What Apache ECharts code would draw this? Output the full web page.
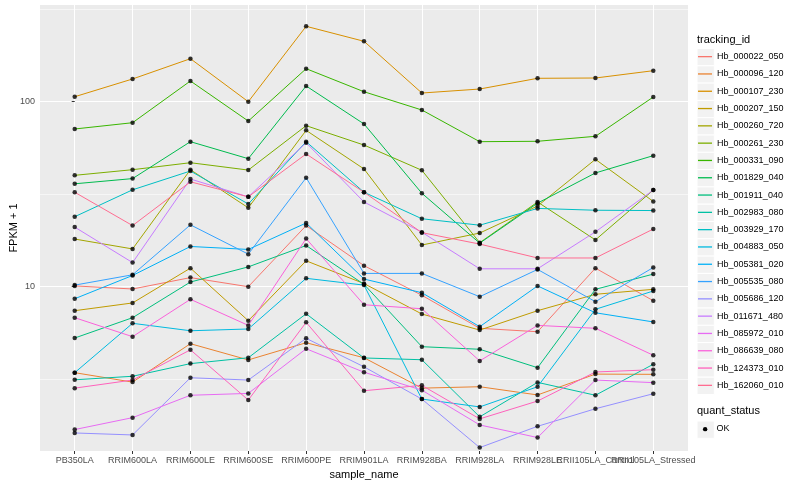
<!DOCTYPE html>
<html><head><meta charset="utf-8">
<script src="https://cdn.jsdelivr.net/npm/echarts@6/dist/echarts.min.js"></script>
<style>html,body{margin:0;padding:0;background:#fff}#c{width:800px;height:500px}</style>
</head><body><div id="c"></div>
<script>
// ---- data ----
const samples = ["PB350LA","RRIM600LA","RRIM600LE","RRIM600SE","RRIM600PE","RRIM901LA","RRIM928BA","RRIM928LA","RRIM928LE","RRII105LA_Control","RRII105LA_Stressed"];
const trackingIds = ["Hb_000022_050","Hb_000096_120","Hb_000107_230","Hb_000207_150","Hb_000260_720","Hb_000261_230","Hb_000331_090","Hb_001829_040","Hb_001911_040","Hb_002983_080","Hb_003929_170","Hb_004883_050","Hb_005381_020","Hb_005535_080","Hb_005686_120","Hb_011671_480","Hb_085972_010","Hb_086639_080","Hb_124373_010","Hb_162060_010"];
const Hb_000022_050 = [10.1, 9.72, 11.2, 10.0, 21.4, 13.0, 8.99, 5.96, 5.71, 12.6, 8.40];
const Hb_000096_120 = [3.43, 3.05, 4.92, 4.02, 4.98, 4.13, 2.83, 2.88, 2.60, 3.37, 3.36];
const Hb_000107_230 = [106.4, 132.7, 170.8, 100, 255.6, 212.1, 111.4, 117.1, 133.8, 134.3, 147.1];
const Hb_000207_150 = [7.42, 8.17, 12.6, 6.55, 13.8, 10.4, 7.12, 5.83, 7.42, 9.10, 9.68];
const Hb_000260_720 = [18.1, 16.0, 42.9, 26.7, 70.0, 43.3, 16.8, 19.5, 27.3, 48.8, 28.9];
const Hb_000261_230 = [40.0, 42.9, 46.8, 42.7, 74.2, 58.3, 42.6, 17.3, 28.7, 17.9, 33.3];
const Hb_000331_090 = [71.2, 77.0, 129.4, 78.6, 150.8, 113.2, 90.2, 60.8, 61.1, 65.0, 106.0];
const Hb_001829_040 = [36.0, 38.4, 60.8, 49.2, 121.6, 75.8, 32.0, 17.2, 28.3, 41.2, 51.1];
const Hb_001911_040 = [5.28, 6.80, 10.6, 12.8, 16.7, 10.3, 4.74, 4.59, 3.65, 9.68, 11.7];
const Hb_002983_080 = [3.14, 3.28, 3.84, 4.13, 7.14, 4.12, 4.03, 1.98, 3.04, 2.59, 3.81];
const Hb_003929_170 = [23.9, 33.4, 42.2, 28.0, 60.8, 32.4, 23.3, 21.5, 26.5, 25.9, 25.8];
const Hb_004883_050 = [3.43, 6.34, 5.78, 5.91, 11.1, 10.2, 2.47, 2.24, 2.88, 7.55, 9.48];
const Hb_005381_020 = [8.61, 11.5, 16.5, 15.9, 22.1, 11.0, 9.28, 6.08, 10.1, 7.23, 6.45];
const Hb_005535_080 = [10.2, 11.6, 21.6, 15.0, 38.8, 11.8, 11.8, 8.83, 12.4, 8.30, 12.7];
const Hb_005686_120 = [1.62, 1.58, 3.22, 3.13, 5.26, 3.69, 2.47, 1.35, 1.76, 2.19, 2.64];
const Hb_011671_480 = [21.0, 13.5, 38.2, 30.6, 60.0, 28.7, 19.7, 12.5, 12.5, 19.8, 33.3];
const Hb_085972_010 = [1.69, 1.96, 2.59, 2.65, 4.62, 3.45, 2.76, 1.79, 1.53, 3.13, 3.03];
const Hb_086639_080 = [6.80, 5.37, 8.55, 6.18, 18.2, 7.99, 7.60, 3.97, 6.18, 5.96, 4.26];
const Hb_124373_010 = [2.83, 3.13, 4.56, 2.44, 6.42, 2.74, 2.93, 1.93, 2.41, 3.46, 3.56];
const Hb_162060_010 = [32.4, 21.4, 36.9, 30.6, 52.2, 32.4, 19.6, 17.0, 14.3, 14.3, 20.5];
const seriesValues = [Hb_000022_050, Hb_000096_120, Hb_000107_230, Hb_000207_150, Hb_000260_720, Hb_000261_230, Hb_000331_090, Hb_001829_040, Hb_001911_040, Hb_002983_080, Hb_003929_170, Hb_004883_050, Hb_005381_020, Hb_005535_080, Hb_005686_120, Hb_011671_480, Hb_085972_010, Hb_086639_080, Hb_124373_010, Hb_162060_010];
const yTickValues = [10, 100];
const yMinorValues = [3.1623, 31.623, 316.23];
const quantStatus = ["OK"];

// ---- style ----
const colors = ["#F8766D","#EA8331","#D89000","#C09B00","#A3A500","#7CAE00","#39B600","#00BB4E","#00BF7D","#00C1A3","#00BFC4","#00BAE0","#00B0F6","#35A2FF","#9590FF","#C77CFF","#E76BF3","#FA62DB","#FF62BC","#FF6C91"];
const FONT = '"Liberation Sans", Arial, Helvetica, sans-serif';
const yMin = Math.pow(10, 0.112), yMax = Math.pow(10, 2.5227);
const idx = samples.map((s, i) => i);
const idxMain = idx.filter(i => i !== 9);   // alternate label row so overlapping labels both show
const idxAlt = [9];

const lineSeries = trackingIds.map((id, i) => ({
  name: id, type: 'line', symbol: 'none', z: 2,
  data: seriesValues[i].map((v, j) => [j, v]),
  lineStyle: { color: colors[i], width: 1 },
  itemStyle: { color: colors[i] },
  emphasis: { disabled: true }
}));
const pointData = [];
seriesValues.forEach(arr => arr.forEach((v, j) => pointData.push([j, v])));
const pointSeries = {
  name: quantStatus[0], type: 'scatter', z: 3, symbol: 'circle', symbolSize: 4.5,
  itemStyle: { color: '#000' }, data: pointData, emphasis: { disabled: true }
};

// legend key boxes
const keyX = 696.5, keyTop = 48, keyH = 17.3;
const graphics = [];
trackingIds.forEach((id, i) => graphics.push({
  type: 'rect', left: keyX, top: keyTop + i * keyH, z: 0,
  shape: { width: keyH, height: keyH },
  style: { fill: '#F2F2F2', stroke: '#ffffff', lineWidth: 1 }
}));
graphics.push({ type: 'text', left: 697, top: 34, z: 5,
  style: { text: 'tracking_id', fontSize: 11, fontFamily: FONT, fill: '#000' } });
graphics.push({ type: 'text', left: 697, top: 405, z: 5,
  style: { text: 'quant_status', fontSize: 11, fontFamily: FONT, fill: '#000' } });
graphics.push({ type: 'rect', left: keyX, top: 420.5, z: 0,
  shape: { width: keyH, height: keyH },
  style: { fill: '#F2F2F2', stroke: '#ffffff', lineWidth: 1 } });
graphics.push({ type: 'circle', left: keyX + keyH / 2 - 2.2, top: 420.5 + keyH / 2 - 2.2, z: 5,
  shape: { r: 2.2 }, style: { fill: '#000' } });
graphics.push({ type: 'text', left: 716.5, top: 424, z: 5,
  style: { text: quantStatus[0], fontSize: 9, fontFamily: FONT, fill: '#000' } });

const labelStyle = { formatter: v => samples[Math.round(v)], color: '#4D4D4D', fontSize: 9, margin: 5,
  fontFamily: FONT, hideOverlap: false, showMinLabel: true, showMaxLabel: true };

const chart = echarts.init(document.getElementById('c'));
chart.setOption({
  animation: false,
  backgroundColor: '#ffffff',
  grid: { left: 40, right: 112, top: 5, bottom: 49, show: true, backgroundColor: '#EBEBEB', borderWidth: 0,
          containLabel: false, outerBoundsMode: 'none' },
  xAxis: [{
    type: 'value', min: -0.6, max: 10.6, position: 'bottom',
    axisLine: { show: false },
    axisTick: { show: true, customValues: idx, length: 3, lineStyle: { color: '#333333' } },
    axisLabel: Object.assign({ customValues: idxMain }, labelStyle),
    splitLine: { show: true, lineStyle: { color: '#ffffff', width: 1 } },
    name: 'sample_name', nameLocation: 'middle', nameGap: 16,
    nameTextStyle: { color: '#000', fontSize: 11, fontFamily: FONT }
  }, {
    type: 'value', min: -0.6, max: 10.6, position: 'bottom', offset: 0,
    axisLine: { show: false }, axisTick: { show: false }, splitLine: { show: false },
    axisLabel: Object.assign({ customValues: idxAlt }, labelStyle)
  }],
  yAxis: [{
    type: 'log', logBase: 10, min: yMin, max: yMax, position: 'left', z: 1,
    axisLine: { show: false }, axisTick: { show: false, customValues: yMinorValues },
    axisLabel: { show: false },
    splitLine: { show: true, lineStyle: { color: '#ffffff', width: 0.55 } }
  }, {
    type: 'log', logBase: 10, min: yMin, max: yMax, position: 'left', offset: 0,
    axisLine: { show: false },
    axisTick: { show: true, customValues: yTickValues, length: 3, lineStyle: { color: '#333333' } },
    axisLabel: { customValues: yTickValues, color: '#4D4D4D', fontSize: 9, margin: 5, fontFamily: FONT, hideOverlap: false },
    splitLine: { show: true, lineStyle: { color: '#ffffff', width: 1 } },
    name: 'FPKM + 1', nameLocation: 'middle', nameGap: 21, nameRotate: 90, nameMoveOverlap: false,
    nameTextStyle: { color: '#000', fontSize: 11, fontFamily: FONT }
  }],
  legend: {
    orient: 'vertical', left: 698, top: keyTop, padding: 0, itemGap: 0,
    itemWidth: 14, itemHeight: 1.3, icon: 'rect', selectedMode: false,
    data: trackingIds.map((id, i) => ({ name: id, itemStyle: { color: colors[i] } })),
    textStyle: { fontSize: 9, color: '#000', lineHeight: keyH, fontFamily: FONT }
  },
  graphic: graphics,
  series: [...lineSeries, pointSeries]
});
</script></body></html>
